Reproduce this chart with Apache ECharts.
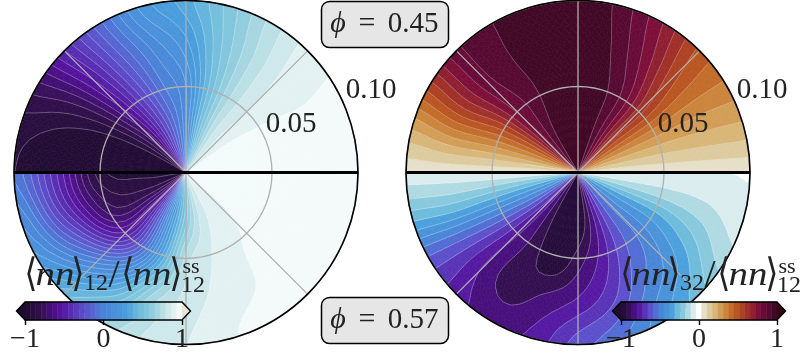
<!DOCTYPE html>
<html>
<head>
<meta charset="utf-8">
<script src="https://cdn.jsdelivr.net/npm/echarts@6/dist/echarts.min.js"></script>
<style>
  html, body { margin: 0; padding: 0; background: #fff; }
  #chart { width: 802px; height: 360px; }
</style>
</head>
<body>
<div id="chart"></div>
<script>
// radial and angular nodes of the measured fields
const radii = [0, 0.025, 0.05, 0.075, 0.1];
const topAngles = [0, 15, 30, 45, 60, 75, 90, 105, 120, 135, 150, 165, 180];
const bottomAngles = [180, 195, 210, 225, 240, 255, 270, 285, 300, 315, 330, 345, 360];

// rows are r = 0.025, 0.05, 0.075, 0.1 (r = 0 repeats the first row)
const nn12Top = [
  [0.99, 0.98, 0.95, 0.88, 0.74, 0.46, 0.10, -0.15, -0.40, -0.70, -0.92, -1.02, -1.05],
  [0.99, 0.975, 0.94, 0.86, 0.72, 0.45, 0.10, -0.05, -0.30, -0.60, -0.88, -1.02, -1.05],
  [0.985, 0.97, 0.93, 0.87, 0.72, 0.50, 0.22, 0.05, -0.20, -0.52, -0.82, -0.97, -1.02],
  [0.98, 0.97, 0.94, 0.89, 0.75, 0.55, 0.35, 0.20, -0.12, -0.45, -0.75, -0.90, -0.93]
];
const nn12Bottom = [
  [-0.95, -0.90, -0.80, -0.55, -0.15, 0.25, 0.55, 0.78, 0.88, 0.92, 0.97, 0.99, 0.99],
  [-0.90, -0.82, -0.72, -0.50, -0.12, 0.35, 0.75, 0.85, 0.91, 0.94, 0.98, 0.99, 0.99],
  [-0.45, -0.38, -0.20, 0.05, 0.33, 0.68, 0.82, 0.88, 0.92, 0.98, 0.99, 0.99, 0.99],
  [-0.05, 0.08, 0.20, 0.42, 0.65, 0.80, 0.86, 0.92, 0.98, 0.99, 0.99, 0.99, 0.99]
];
const nn32Top = [
  [0.05, 0.20, 0.38, 0.60, 0.83, 0.96, 1.02, 1.02, 0.93, 0.78, 0.50, 0.27, 0.05],
  [0.06, 0.20, 0.38, 0.62, 0.85, 0.96, 1.02, 1.02, 0.90, 0.80, 0.53, 0.28, 0.06],
  [0.06, 0.21, 0.36, 0.55, 0.78, 0.93, 1.02, 1.02, 0.93, 0.84, 0.60, 0.30, 0.06],
  [0.06, 0.22, 0.36, 0.50, 0.72, 0.90, 1.00, 0.98, 0.93, 0.84, 0.55, 0.25, 0.06]
];
const nn32Bottom = [
  [-0.05, -0.30, -0.52, -0.75, -0.92, -1.02, -1.02, -0.85, -0.65, -0.50, -0.35, -0.16, -0.03],
  [-0.05, -0.28, -0.55, -0.78, -0.90, -1.00, -0.90, -0.78, -0.62, -0.50, -0.35, -0.15, -0.04],
  [-0.06, -0.26, -0.58, -0.80, -0.90, -0.85, -0.78, -0.68, -0.53, -0.42, -0.26, -0.12, -0.04],
  [-0.06, -0.28, -0.60, -0.76, -0.82, -0.77, -0.62, -0.53, -0.40, -0.27, -0.13, -0.06, -0.03]
];

const colorbarTicks = [-1, 0, 1];

// colormap
const cmapStops = [
  [-1, '#1f0c30'], [-0.9, '#33104f'], [-0.78, '#54109c'], [-0.62, '#5d50cc'],
  [-0.5, '#4a83d8'], [-0.35, '#4a9fdc'], [-0.276, '#6dbcdc'], [-0.207, '#88c9dd'],
  [-0.138, '#b0dae2'], [-0.07, '#d9ecee'], [-0.02, '#f2f9f9'], [0, '#ffffff'],
  [0.05, '#e8e4d4'], [0.15, '#dcc898'],
  [0.25, '#d4a860'], [0.38, '#c87830'], [0.5, '#b8501f'], [0.62, '#a03028'],
  [0.75, '#801038'], [0.85, '#620a38'], [0.95, '#480a2c'], [1, '#300818']
];

const BANDS = 29;
const SUB = 5;   // contour cells per measured cell
const edges = [];
for (let k = 0; k <= BANDS; k++) edges.push(-1 + 2 * k / BANDS);

function hex(c) {
  return [1, 3, 5].map(i => parseInt(c.substr(i, 2), 16));
}
function cmap(s) {
  if (s <= cmapStops[0][0]) return cmapStops[0][1];
  for (let i = 1; i < cmapStops.length; i++) {
    if (s <= cmapStops[i][0]) {
      const a = cmapStops[i - 1], b = cmapStops[i];
      const f = (s - a[0]) / (b[0] - a[0]);
      const ca = hex(a[1]), cb = hex(b[1]);
      return 'rgb(' + ca.map((v, n) => Math.round(v + (cb[n] - v) * f)).join(',') + ')';
    }
  }
  return cmapStops[cmapStops.length - 1][1];
}
const halfScale = v => (v - 1) / 2;   // left plot only uses the lower half of the map
const fullScale = v => v;

function bandColor(k, scale) {
  return cmap(scale((edges[k] + edges[k + 1]) / 2));
}

function clipSide(poly, lim, sign) {
  const out = [];
  for (let i = 0; i < poly.length; i++) {
    const a = poly[i], b = poly[(i + 1) % poly.length];
    const da = (a[2] - lim) * sign, db = (b[2] - lim) * sign;
    if (da >= 0) out.push(a);
    if (da * db < 0) {
      const f = da / (da - db);
      out.push([a[0] + (b[0] - a[0]) * f, a[1] + (b[1] - a[1]) * f, lim]);
    }
  }
  return out;
}

function toPixels(pts, api) {
  return pts.map(p => api.coord([p[0], p[1]]));
}

function nodeData(rows, angles) {
  const data = [];
  radii.forEach((r, i) => {
    const row = rows[Math.max(0, i - 1)];
    angles.forEach((a, j) => data.push([r, a, row[j]]));
  });
  return data;
}

// smooth contouring surface over the nodes (Catmull-Rom weights)
function weights(f) {
  return [
    -0.5 * f + f * f - 0.5 * f * f * f,
    1 - 2.5 * f * f + 1.5 * f * f * f,
    0.5 * f + 2 * f * f - 1.5 * f * f * f,
    -0.5 * f * f + 0.5 * f * f * f
  ];
}
function surface(data, angles, i, j, fi, fj) {
  const nA = angles.length, nR = radii.length;
  const wi = weights(fi), wj = weights(fj);
  let v = 0;
  for (let a = 0; a < 4; a++) {
    const ii = Math.min(nR - 1, Math.max(0, i - 1 + a));
    for (let b = 0; b < 4; b++) {
      const jj = Math.min(nA - 1, Math.max(0, j - 1 + b));
      v += wi[a] * wj[b] * data[ii * nA + jj][2];
    }
  }
  return v;
}
function cellTriangles(data, angles, k) {
  const nA = angles.length;
  const i = Math.floor(k / nA), j = k % nA;
  if (i >= radii.length - 1 || j >= nA - 1) return [];
  const pt = (a, b) => [
    radii[i] + (radii[i + 1] - radii[i]) * a / SUB,
    angles[j] + (angles[j + 1] - angles[j]) * b / SUB,
    surface(data, angles, i, j, a / SUB, b / SUB)
  ];
  const tris = [];
  for (let a = 0; a < SUB; a++) {
    for (let b = 0; b < SUB; b++) {
      const p00 = pt(a, b), p01 = pt(a, b + 1), p10 = pt(a + 1, b), p11 = pt(a + 1, b + 1);
      tris.push([p00, p01, p11], [p00, p11, p10]);
    }
  }
  return tris;
}

function bandSeries(rows, angles, polarIndex, scale) {
  const data = nodeData(rows, angles);
  return {
    type: 'custom', coordinateSystem: 'polar', polarIndex: polarIndex, z: 2, silent: true, clip: false,
    data: data,
    renderItem: function (params, api) {
      const children = [];
      cellTriangles(data, angles, params.dataIndex).forEach(tri => {
        for (let k = 0; k < BANDS; k++) {
          let poly = tri;
          if (k > 0) poly = clipSide(poly, edges[k], 1);
          if (poly.length && k < BANDS - 1) poly = clipSide(poly, edges[k + 1], -1);
          if (poly.length < 3) continue;
          const c = bandColor(k, scale);
          children.push({
            type: 'polygon',
            shape: { points: toPixels(poly, api) },
            style: { fill: c, stroke: c, lineWidth: 0.7 }
          });
        }
      });
      return { type: 'group', children: children };
    }
  };
}

function lineSeries(rows, angles, polarIndex) {
  const data = nodeData(rows, angles);
  return {
    type: 'custom', coordinateSystem: 'polar', polarIndex: polarIndex, z: 3, silent: true, clip: false,
    data: data,
    renderItem: function (params, api) {
      const children = [];
      cellTriangles(data, angles, params.dataIndex).forEach(tri => {
        for (let k = 1; k < BANDS; k++) {
          const lim = edges[k], seg = [];
          for (let i = 0; i < 3; i++) {
            const a = tri[i], b = tri[(i + 1) % 3];
            if ((a[2] - lim) * (b[2] - lim) < 0) {
              const f = (lim - a[2]) / (b[2] - a[2]);
              seg.push([a[0] + (b[0] - a[0]) * f, a[1] + (b[1] - a[1]) * f, lim]);
            }
          }
          if (seg.length === 2) {
            children.push({
              type: 'polyline',
              shape: { points: toPixels(seg, api) },
              style: { fill: null, stroke: 'rgba(255,255,255,0.4)', lineWidth: 0.7 }
            });
          }
        }
      });
      return { type: 'group', children: children };
    }
  };
}

function baselineSeries(polarIndex) {
  return {
    type: 'line', coordinateSystem: 'polar', polarIndex: polarIndex, z: 6, silent: true,
    showSymbol: false, symbol: 'none', animation: false,
    lineStyle: { color: '#000', width: 3 },
    data: [[0.1, 0], [0, 0], [0.1, 180]]
  };
}

function colorbarSeries(gridIndex, scale) {
  const data = [];
  for (let k = 0; k < BANDS; k++) data.push([edges[k], edges[k + 1]]);
  data.push([-1, -1], [1, 1], [-1, 1]);   // under arrow, over arrow, outline
  return {
    type: 'custom', coordinateSystem: 'cartesian2d', xAxisIndex: gridIndex, yAxisIndex: gridIndex,
    z: 10, silent: true, clip: false,
    data: data,
    renderItem: function (params, api) {
      const k = params.dataIndex;
      const lt = api.coord([-1, 1]), lb = api.coord([-1, 0]);
      const rt = api.coord([1, 1]), rb = api.coord([1, 0]);
      const midY = (lt[1] + lb[1]) / 2;
      if (k < BANDS) {
        const a = api.coord([api.value(0), 1]), b = api.coord([api.value(1), 0]);
        const c = bandColor(k, scale);
        return {
          type: 'polygon',
          shape: { points: [a, [b[0], a[1]], b, [a[0], b[1]]] },
          style: { fill: c, stroke: c, lineWidth: 0.5 }
        };
      }
      if (k === BANDS) {
        return { type: 'polygon', shape: { points: [lt, [lt[0] - 8.5, midY], lb] }, style: { fill: cmap(scale(-1.1)) } };
      }
      if (k === BANDS + 1) {
        return { type: 'polygon', shape: { points: [rt, [rt[0] + 8.5, midY], rb] }, style: { fill: cmap(scale(1.1)) } };
      }
      return {
        type: 'polygon',
        shape: { points: [lt, rt, [rt[0] + 8.5, midY], rb, lb, [lt[0] - 8.5, midY]] },
        style: { fill: null, stroke: '#000', lineWidth: 1.4 }
      };
    }
  };
}

function polarAngle(i) {
  return {
    polarIndex: i, type: 'value', min: 0, max: 360, interval: 45, startAngle: 0, clockwise: false, z: 5,
    axisLine: { show: true, lineStyle: { color: '#000', width: 1.6 } },
    axisTick: { show: false }, axisLabel: { show: false },
    splitLine: { show: true, lineStyle: { color: '#b0b0b0', width: 1.3 } }
  };
}
function polarRadius(i) {
  return {
    polarIndex: i, type: 'value', min: 0, max: 0.1, interval: 0.05, z: 5,
    axisLine: { show: false }, axisTick: { show: false }, axisLabel: { show: false },
    splitLine: { show: true, lineStyle: { color: '#b0b0b0', width: 1.3 } }
  };
}
function barAxisX(i) {
  return {
    gridIndex: i, type: 'value', min: -1, max: 1, interval: 1, z: 11,
    axisLine: { show: false },
    axisTick: { show: true, length: 5, lineStyle: { color: '#000', width: 1.4 } },
    splitLine: { show: false },
    axisLabel: {
      show: true, margin: 6, color: '#222', fontFamily: 'Liberation Serif', fontSize: 28,
      formatter: v => colorbarTicks.includes(v) ? String(v).replace('-', '\u2212') : ''
    }
  };
}
function barAxisY(i) {
  return { gridIndex: i, type: 'value', min: 0, max: 1, show: false };
}

const SERIF = '"Liberation Serif", serif';
function txt(text, x, y, size, extra) {
  return {
    type: 'text', z: 20, silent: true,
    style: Object.assign({
      text: text, x: x, y: y, fill: '#222', textAlign: 'center', textVerticalAlign: 'middle',
      font: size + 'px ' + SERIF
    }, extra || {})
  };
}
function italic(text, x, y, size) {
  return txt(text, x, y, size, { font: 'italic ' + size + 'px ' + SERIF });
}
// stretched math italic, CM n is wider than Liberation's
function wide(text, x, y, size) {
  return {
    type: 'text', z: 20, silent: true, x: x, y: y, scaleX: 1.18,
    style: {
      text: text, x: 0, y: 0, fill: '#222', textAlign: 'center', textVerticalAlign: 'middle',
      font: 'italic ' + size + 'px ' + SERIF
    }
  };
}
function angle(text, x, y) {
  return {
    type: 'text', z: 20, silent: true, x: x, y: y, scaleY: 1.15,
    style: {
      text: text, x: 0, y: 0, fill: '#222', textAlign: 'center', textVerticalAlign: 'middle',
      font: '34px "DejaVu Sans"'
    }
  };
}

// <nn>_sub / <nn>^ss_12, x0 is the left end of the label
function ratioLabel(sub, x0) {
  const y = 276;
  return [
    angle('\u27e8', x0 + 4, y), wide('nn', x0 + 28, y, 33), angle('\u27e9', x0 + 51, y),
    txt(sub, x0 + 69, y + 8, 24),
    txt('/', x0 + 87, y, 40),
    angle('\u27e8', x0 + 101, y), wide('nn', x0 + 125, y, 33), angle('\u27e9', x0 + 149, y),
    txt('ss', x0 + 164, y - 9, 22), txt('12', x0 + 166, y + 10, 24)
  ];
}
function phiBox(value, top) {
  const cy = top + 23;
  return [
    {
      type: 'rect', z: 19, silent: true,
      shape: { x: 321.5, y: top, width: 127, height: 46, r: 8 },
      style: { fill: '#e6e6e6', stroke: '#000', lineWidth: 1.5 }
    },
    italic('\u03d5', 338, cy, 30),
    txt('=', 367, cy, 30),
    txt(value, 413, cy, 29)
  ];
}

const annotations = [].concat(
  [txt('0.05', 291, 124, 29), txt('0.10', 371, 90, 29), txt('0.05', 683, 124, 29), txt('0.10', 762, 90, 29)],
  ratioLabel('12', 27),
  ratioLabel('32', 623),
  phiBox('0.45', 1.5),
  phiBox('0.57', 297.5)
);

const chart = echarts.init(document.getElementById('chart'), null, { renderer: 'canvas' });
chart.setOption({
  animation: false,
  backgroundColor: '#fff',
  polar: [
    { center: [186, 172.5], radius: 172 },
    { center: [578, 172.5], radius: 172 }
  ],
  angleAxis: [polarAngle(0), polarAngle(1)],
  radiusAxis: [polarRadius(0), polarRadius(1)],
  grid: [
    { left: 25, width: 157, top: 302, height: 18 },
    { left: 621, width: 156, top: 302, height: 18 }
  ],
  xAxis: [barAxisX(0), barAxisX(1)],
  yAxis: [barAxisY(0), barAxisY(1)],
  series: [
    bandSeries(nn12Top, topAngles, 0, halfScale),
    bandSeries(nn12Bottom, bottomAngles, 0, halfScale),
    bandSeries(nn32Top, topAngles, 1, fullScale),
    bandSeries(nn32Bottom, bottomAngles, 1, fullScale),
    lineSeries(nn12Top, topAngles, 0),
    lineSeries(nn12Bottom, bottomAngles, 0),
    lineSeries(nn32Top, topAngles, 1),
    lineSeries(nn32Bottom, bottomAngles, 1),
    baselineSeries(0),
    baselineSeries(1),
    colorbarSeries(0, halfScale),
    colorbarSeries(1, fullScale)
  ],
  graphic: { elements: annotations }
});
</script>
</body>
</html>
